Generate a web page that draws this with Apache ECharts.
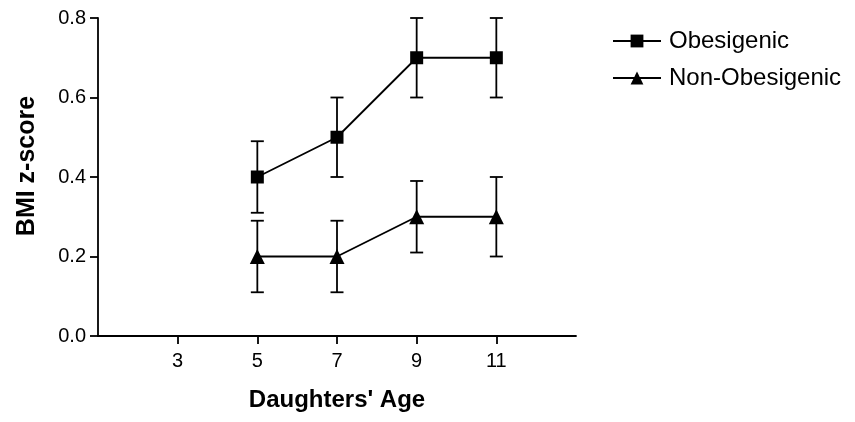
<!DOCTYPE html>
<html>
<head>
<meta charset="utf-8">
<script src="https://cdn.jsdelivr.net/npm/echarts@6/dist/echarts.min.js"></script>
<style>
html,body{margin:0;padding:0;background:#fff;}
#chart{width:855px;height:422px;}
</style>
</head>
<body>
<div id="chart"></div>
<script>
const ages = [5, 7, 9, 11];
const xTicks = [3, 5, 7, 9, 11];
const obesigenicMean = [0.40, 0.50, 0.70, 0.70];
const obesigenicLow  = [0.31, 0.40, 0.60, 0.60];
const obesigenicHigh = [0.49, 0.60, 0.80, 0.80];
const nonObesigenicMean = [0.20, 0.20, 0.30, 0.30];
const nonObesigenicLow  = [0.11, 0.11, 0.21, 0.20];
const nonObesigenicHigh = [0.29, 0.29, 0.39, 0.40];

const FONT = '"Liberation Sans", Arial, Helvetica, sans-serif';

function errData(low, high) {
  return ages.map((a, i) => [a, low[i], high[i]]);
}
function errRender(params, api) {
  const x = api.value(0);
  const lo = api.coord([x, api.value(1)]);
  const hi = api.coord([x, api.value(2)]);
  const w = 6.5;
  const st = { stroke: '#000', lineWidth: 1.8, fill: null };
  return {
    type: 'group',
    children: [
      { type: 'line', shape: { x1: lo[0], y1: lo[1], x2: hi[0], y2: hi[1] }, style: st },
      { type: 'line', shape: { x1: hi[0] - w, y1: hi[1], x2: hi[0] + w, y2: hi[1] }, style: st },
      { type: 'line', shape: { x1: lo[0] - w, y1: lo[1], x2: lo[0] + w, y2: lo[1] }, style: st }
    ]
  };
}

const chart = echarts.init(document.getElementById('chart'), null, { renderer: 'canvas' });
chart.setOption({
  backgroundColor: '#fff',
  animation: false,
  grid: { left: 98, right: 279, top: 18, bottom: 86, containLabel: false },
  legend: {
    data: ['Obesigenic', 'Non-Obesigenic'],
    orient: 'vertical',
    left: 607,
    top: 24,
    itemWidth: 48,
    itemHeight: 16,
    itemGap: 13,
    textStyle: { fontFamily: FONT, fontSize: 24, color: '#000', padding: [0, 0, 0, 3] }
  },
  xAxis: {
    type: 'value',
    min: 1,
    max: 13,
    interval: 2,
    name: "Daughters' Age",
    nameLocation: 'middle',
    nameGap: 52,
    nameTextStyle: { fontFamily: FONT, fontSize: 24, fontWeight: 'bold', color: '#000' },
    axisLine: { onZero: false, lineStyle: { color: '#000', width: 1.8 } },
    axisTick: { show: true, length: 8, lineStyle: { color: '#000', width: 1.8 }, customValues: xTicks },
    axisLabel: { fontFamily: FONT, fontSize: 20, color: '#000', margin: 15, customValues: xTicks },
    splitLine: { show: false }
  },
  yAxis: {
    type: 'value',
    min: 0,
    max: 0.8,
    interval: 0.2,
    name: 'BMI z-score',
    nameLocation: 'middle',
    nameGap: 58,
    nameRotate: 90,
    nameTextStyle: { fontFamily: FONT, fontSize: 25, fontWeight: 'bold', color: '#000', padding: [0, 0, 0, 22] },
    axisLine: { show: true, lineStyle: { color: '#000', width: 1.8 } },
    axisTick: { show: true, length: 8, lineStyle: { color: '#000', width: 1.8 } },
    axisLabel: { fontFamily: FONT, fontSize: 20, color: '#000', margin: 12, formatter: v => v.toFixed(1) },
    splitLine: { show: false }
  },
  series: [
    {
      type: 'custom', name: 'errOb', renderItem: errRender, data: errData(obesigenicLow, obesigenicHigh), z: 1, silent: true
    },
    {
      type: 'custom', name: 'errNon', renderItem: errRender, data: errData(nonObesigenicLow, nonObesigenicHigh), z: 1, silent: true
    },
    {
      type: 'line', name: 'Obesigenic',
      data: ages.map((a, i) => [a, obesigenicMean[i]]),
      symbol: 'rect', symbolSize: 13,
      lineStyle: { color: '#000', width: 1.8 },
      itemStyle: { color: '#000' },
      z: 3
    },
    {
      type: 'line', name: 'Non-Obesigenic',
      data: ages.map((a, i) => [a, nonObesigenicMean[i]]),
      symbol: 'triangle', symbolSize: 15,
      lineStyle: { color: '#000', width: 1.8 },
      itemStyle: { color: '#000' },
      z: 3
    }
  ]
});
</script>
</body>
</html>
